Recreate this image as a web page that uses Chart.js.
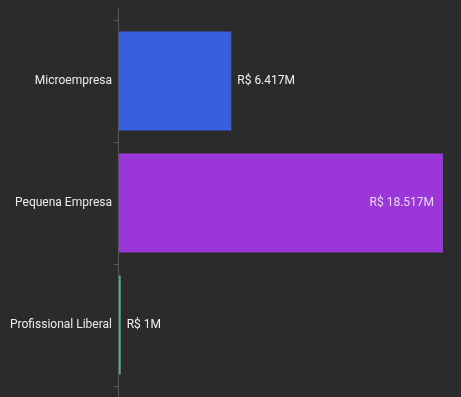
<!DOCTYPE html>
<html>
<head>
<meta charset="utf-8">
<script src="https://cdn.jsdelivr.net/npm/chart.js@4.4.1/dist/chart.umd.min.js"></script>
<style>
  html, body { margin: 0; padding: 0; background: #2b2b2b; }
  #wrap { width: 461px; height: 397px; }
</style>
</head>
<body>
<div id="wrap"><canvas id="c" width="461" height="397"></canvas></div>
<script>
const categories = ["Microempresa", "Pequena Empresa", "Profissional Liberal"];
const values = [6.417, 18.517, 0.1];          // R$ milhões
const valueLabels = ["R$ 6.417M", "R$ 18.517M", "R$ 1M"];
const barColors = ["#3a5fdc", "#9b36d9", "#4cb585"];

const valueLabelPlugin = {
  id: 'valueLabels',
  afterDatasetsDraw(chart) {
    const ctx = chart.ctx;
    const meta = chart.getDatasetMeta(0);
    const area = chart.chartArea;
    ctx.save();
    ctx.font = '12px Roboto, "Noto Sans", sans-serif';
    ctx.textBaseline = 'middle';
    meta.data.forEach((bar, i) => {
      const w = bar.x - bar.base;
      const txt = valueLabels[i];
      if (w > (area.right - area.left) * 0.5) {
        ctx.textAlign = 'right';
        ctx.fillStyle = '#ead9f7';
        ctx.fillText(txt, bar.x - 9, bar.y);
      } else {
        ctx.textAlign = 'left';
        ctx.fillStyle = '#f2f2f2';
        ctx.fillText(txt, bar.x + 6, bar.y);
      }
    });
    ctx.restore();
  }
};

const axisLinePlugin = {
  id: 'axisLine',
  afterDraw(chart) {
    const ctx = chart.ctx;
    const s = chart.scales.y;
    ctx.save();
    ctx.strokeStyle = '#5a5a5a';
    ctx.lineWidth = 1;
    ctx.beginPath();
    ctx.moveTo(s.right - 0.5, chart.chartArea.top - 12);
    ctx.lineTo(s.right - 0.5, chart.height);
    ctx.stroke();
    ctx.restore();
  }
};

new Chart(document.getElementById('c'), {
  type: 'bar',
  data: {
    labels: categories,
    datasets: [{
      data: values,
      backgroundColor: barColors,
      borderWidth: 0,
      categoryPercentage: 0.9,
      barPercentage: 0.9
    }]
  },
  options: {
    indexAxis: 'y',
    responsive: false,
    animation: false,
    layout: { padding: { top: 20, bottom: 11, right: 18, left: 8 } },
    plugins: { legend: { display: false }, tooltip: { enabled: false } },
    scales: {
      x: { display: false, min: 0, max: Math.max(...values) },
      y: {
        border: { display: false },
        grid: { drawOnChartArea: false, color: '#5a5a5a', tickLength: 5, offset: true },
        ticks: { color: '#ececec', font: { family: 'Roboto', size: 12 }, padding: 2 }
      }
    }
  },
  plugins: [valueLabelPlugin, axisLinePlugin]
});
</script>
</body>
</html>
